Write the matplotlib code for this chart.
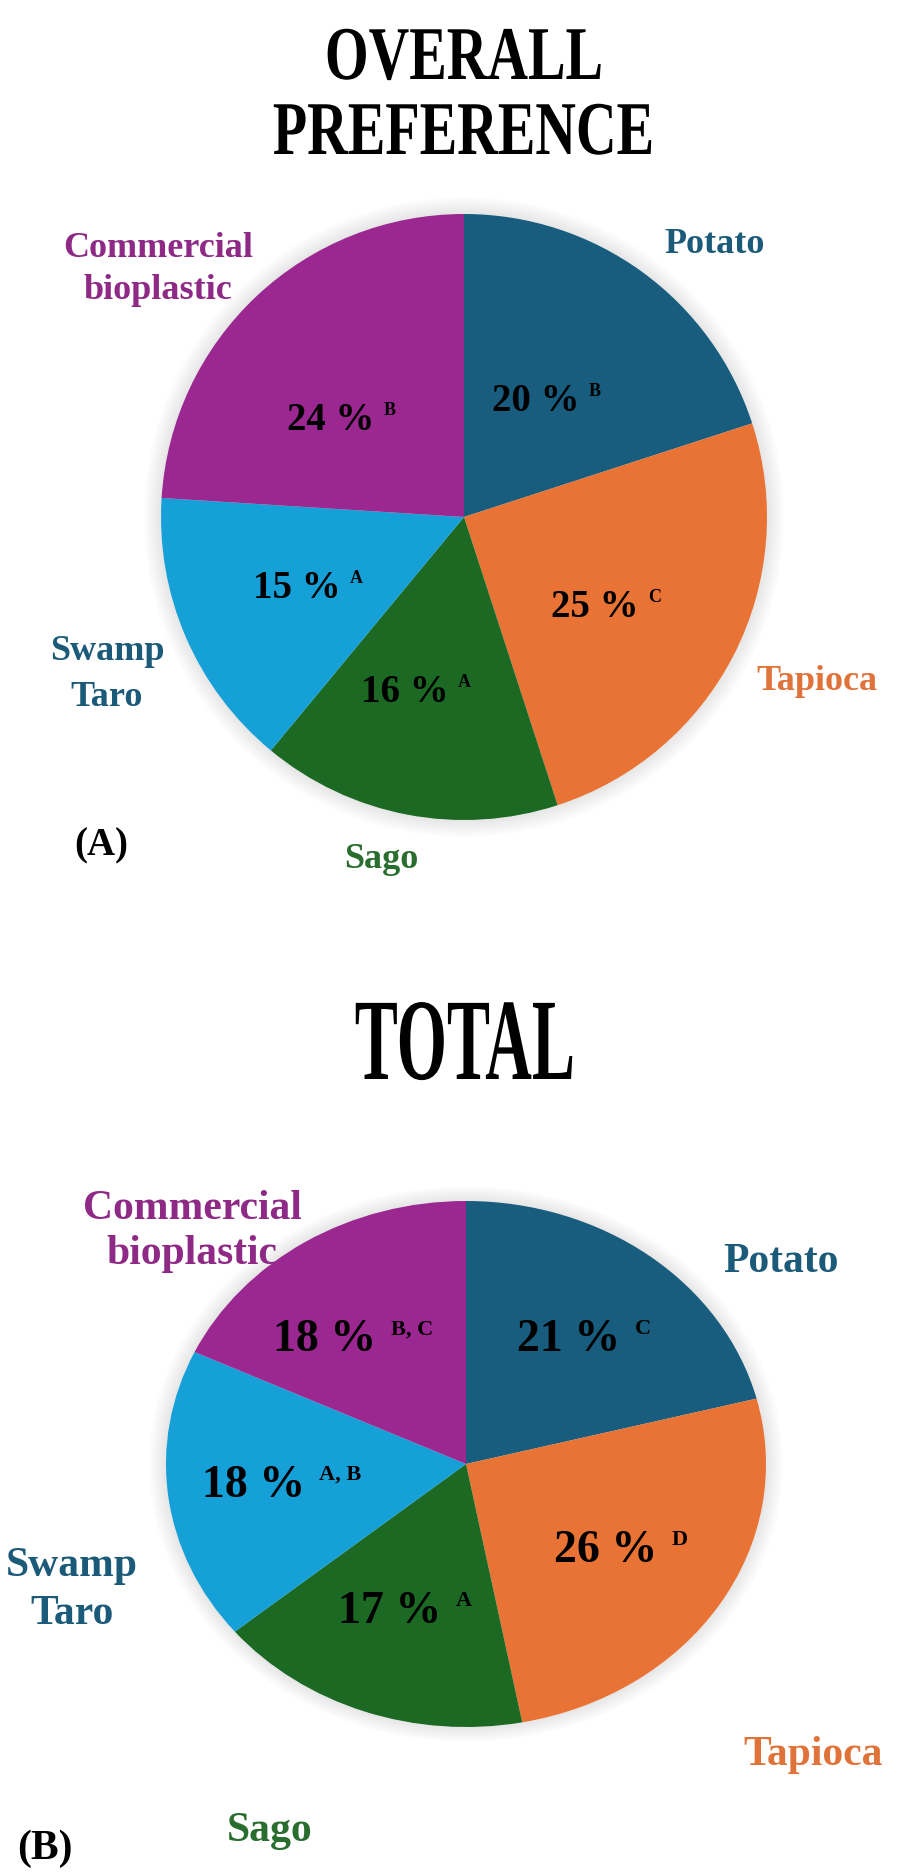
import matplotlib
matplotlib.use("Agg")
import matplotlib.pyplot as plt
from matplotlib.patches import Ellipse
from matplotlib.patheffects import AbstractPathEffect
from matplotlib.transforms import Affine2D

plt.rcParams['font.family'] = ['Liberation Serif', 'DejaVu Serif']
plt.rcParams['font.weight'] = 'bold'

W, H = 898, 1874

# ---------------- data ----------------
samples = ['Potato', 'Tapioca', 'Sago', 'Swamp\nTaro', 'Commercial\nbioplastic']
pref_pct = [20, 25, 16, 15, 24]
pref_grp = ['B', 'C', 'A', 'A', 'B']
total_pct = [21, 26, 17, 18, 18]
total_grp = ['C', 'D', 'A', 'A, B', 'B, C']

slice_colors = ['#185C7E', '#E97334', '#1C6924', '#15A0D7', '#9B2891']
text_colors = ['#1B5A78', '#E0733A', '#2A6E2F', '#1B5A78', '#8E2A86']


class Stretch(AbstractPathEffect):
    # tall, narrow look of the headings
    def __init__(self, sy):
        super().__init__()
        self.sy = sy

    def draw_path(self, renderer, gc, tpath, affine, rgbFace=None):
        renderer.draw_path(gc, tpath, Affine2D().scale(1, self.sy) + affine, rgbFace)


def px(x, y):
    return x / W, 1 - y / H


def pie_axes(cx, cy, rx, ry):
    return fig.add_axes([(cx - rx) / W, 1 - (cy + ry) / H, 2 * rx / W, 2 * ry / H])


def draw_pie(ax, pct, grp, inner_pos, size, sup_size, gap):
    # faint grey halo round the pie
    for k in range(8):
        r = 2 * (1 + 0.007 * (k + 1))
        ax.add_patch(Ellipse((0, 0), r, r, color='0.55', alpha=0.025, lw=0,
                             zorder=0, clip_on=False))
    ax.pie(pct, colors=slice_colors, startangle=90, counterclock=False,
           wedgeprops=dict(linewidth=0))
    ax.set_xlim(-1, 1)
    ax.set_ylim(-1, 1)
    ax.set_aspect('auto')
    ax.axis('off')
    for (x, y), p, g in zip(inner_pos, pct, grp):
        t = ax.text(x, y, f'{p} %', ha='center', va='baseline', fontsize=size, color='black')
        ax.annotate(g, xy=(1, 1), xycoords=t, xytext=(gap, 0), textcoords='offset pixels',
                    ha='left', va='top', fontsize=sup_size, color='black')


fig = plt.figure(figsize=(W / 100, H / 100), dpi=100)

# ---------------- (A) overall preference ----------------
fig.text(*px(464, 80), 'OVERALL', ha='center', va='baseline', fontsize=40.5,
         path_effects=[Stretch(1.35)])
fig.text(*px(464, 155), 'PREFERENCE', ha='center', va='baseline', fontsize=40.5,
         path_effects=[Stretch(1.35)])

ax1 = pie_axes(464, 518, 303, 303)
draw_pie(ax1, pref_pct, pref_grp,
         [(0.238, 0.353), (0.432, -0.327), (-0.195, -0.607), (-0.551, -0.264), (-0.439, 0.290)],
         28, 13, 9)

top_lab = [(715, 228, 1.3), (817, 665, 1.3), (381, 843, 1.3), (107, 635, 1.5), (158, 232, 1.35)]
for (x, y, ls), s, c in zip(top_lab, samples, text_colors):
    fig.text(*px(x, y), s, ha='center', va='top', fontsize=26, color=c, linespacing=ls)
fig.text(*px(101, 827), '(A)', ha='center', va='top', fontsize=28)

# ---------------- (B) total ----------------
fig.text(*px(465, 1080), 'TOTAL', ha='center', va='baseline', fontsize=46.5,
         path_effects=[Stretch(1.8)])

ax2 = pie_axes(466, 1465, 300, 263)
draw_pie(ax2, total_pct, total_grp,
         [(0.343, 0.433), (0.467, -0.369), (-0.253, -0.601), (-0.707, -0.122), (-0.470, 0.433)],
         33, 16, 14)

bot_lab = [(781, 1243, 1.3), (813, 1736, 1.3), (270, 1812, 1.3), (72, 1547, 1.35), (192, 1190, 1.25)]
for (x, y, ls), s, c in zip(bot_lab, samples, text_colors):
    fig.text(*px(x, y), s, ha='center', va='top', fontsize=30, color=c, linespacing=ls)
fig.text(*px(45, 1830), '(B)', ha='center', va='top', fontsize=30)

fig.savefig('out.png', dpi=100, facecolor='white')
